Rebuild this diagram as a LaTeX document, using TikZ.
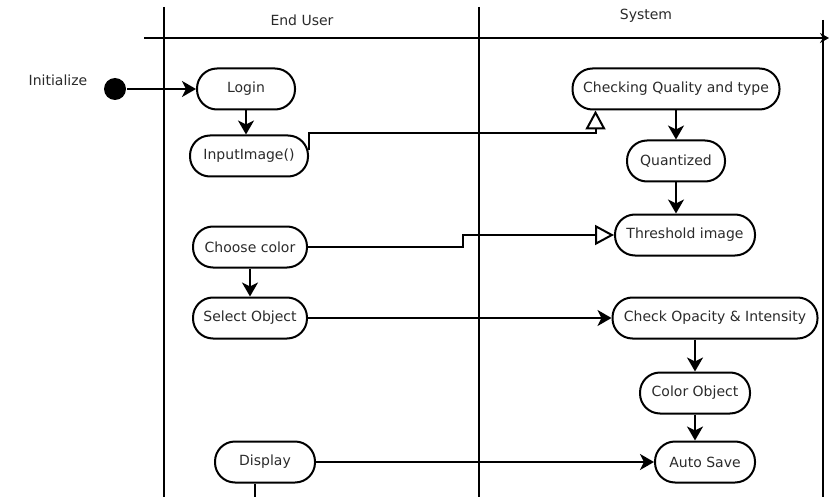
\documentclass[tikz,border=0pt]{standalone}
\usepackage{fontspec}
\setmainfont{DejaVu Sans}
\usepackage{tikz}
\usetikzlibrary{arrows.meta,positioning}
\definecolor{labeltext}{HTML}{2A2A2A}

\begin{document}
\begin{tikzpicture}[x=1pt, y=-1pt, line width=2pt,
    font=\fontsize{14}{16}\selectfont,
    activity/.style={draw, rounded corners=20pt, minimum height=41pt, inner sep=2pt, text=labeltext},
    arr/.style={-{Stealth[length=14pt,width=16pt,inset=4pt]}},
    opentip/.style={-{Triangle[open,length=19pt,width=20pt,fill=white]}}]
    \useasboundingbox (0,0) rectangle (829,497);
    % swimlanes
    \coordinate (laneA) at (164,7);
    \coordinate (laneB) at (479,7);
    \coordinate (laneC) at (823,20);
    \coordinate (headL) at (144,38);
    \coordinate (headR) at (829,38);
    \draw (laneA) -- (laneA |- 0,497);
    \draw (laneB) -- (laneB |- 0,497);
    \draw (laneC) -- (laneC |- 0,497);
    \draw[-{Stealth[length=9pt,width=10pt]}] (headL) -- (headR);
    \node[text=labeltext] (user) at (302,20) {End User};
    \node[text=labeltext] (sys) at (646,16) {System};

    \node[text=labeltext] (initlabel) at (58,80) {Initialize};
    \node[circle, fill=black, minimum size=22pt, inner sep=0pt] (start) at (115,89) {};

    % end user lane
    \node[activity, minimum width=98pt] (login) at (246,89) {Login};
    \node[activity, minimum width=118pt] (input) at (249,156) {InputImage()};
    \node[activity, minimum width=114pt] (choose) at (250,247) {Choose color};
    \node[activity, minimum width=114pt] (select) at (250,318) {Select Object};
    \node[activity, minimum width=100pt] (display) at (265,462) {Display};
    \coordinate (dispend) at (255,497);

    % system lane
    \node[activity, minimum width=207pt] (quality) at (676,89) {Checking Quality and type};
    \node[activity, minimum width=98pt] (quant) at (676,161) {Quantized};
    \node[activity, minimum width=140pt] (thresh) at (685,235) {Threshold image};
    \node[activity, minimum width=205pt] (opac) at (715,318) {Check Opacity \& Intensity};
    \node[activity, minimum width=110pt] (color) at (695,393) {Color Object};
    \node[activity, minimum width=100pt] (save) at (705,462) {Auto Save};

    \draw[arr] (start) -- (login);
    \draw[arr] (login.south) -- (login.south |- input.north);
    \draw[opentip] ([yshift=6pt]input.east) -- ++(0,-17) -| ([xshift=24pt]quality.south west);
    \draw[arr] (quality.south) -- (quant);
    \draw[arr] (quant.south) -- (quant.south |- thresh.north);
    \draw[opentip] (choose.east) -- ++(155,0) |- (thresh.west);
    \draw[arr] (choose.south) -- (select);
    \draw[arr] (select) -- (opac);
    \draw[arr] (opac.south -| color.north) -- (color.north);
    \draw[arr] (color.south) -- (color.south |- save.north);
    \draw[arr] (display) -- (save);
    \draw ([xshift=-10pt]display.south) -- (dispend);
\end{tikzpicture}
\end{document}
